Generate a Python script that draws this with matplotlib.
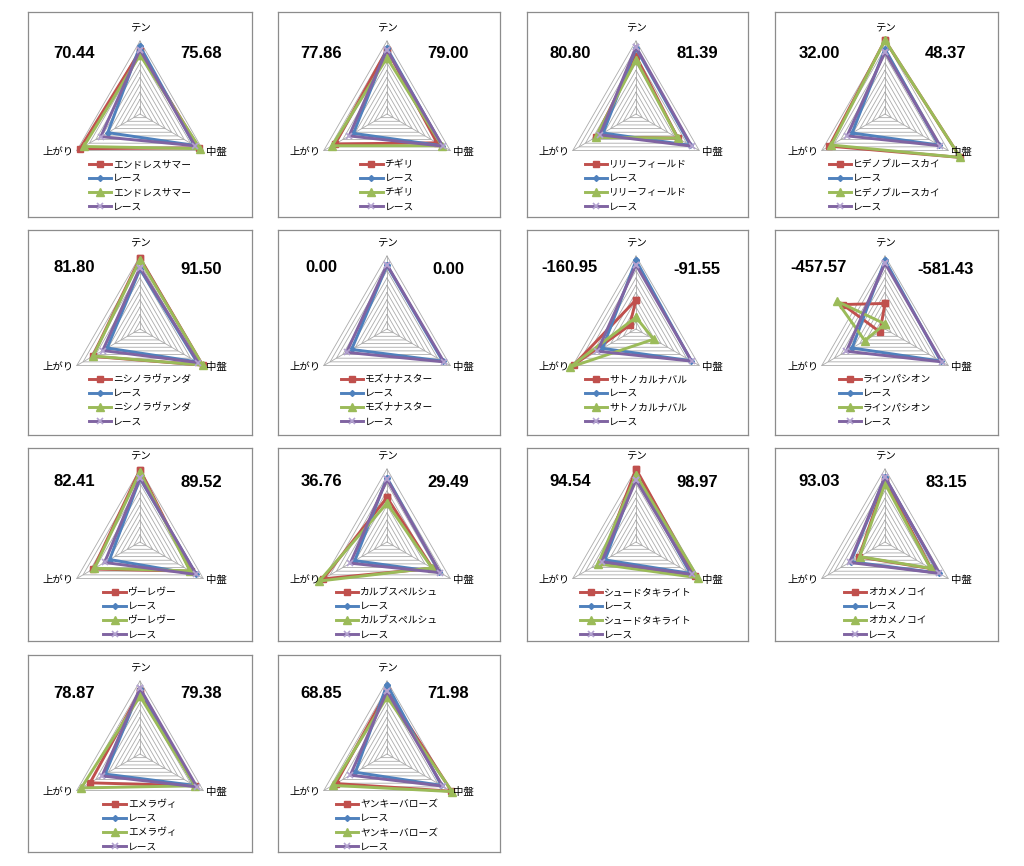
import numpy as np
import matplotlib.pyplot as plt

plt.rcParams['font.family'] = ['Noto Sans CJK JP', 'DejaVu Sans']

axis_labels = ['テン', '中盤', '上がり']
horse_names = ['エンドレスサマー', 'チギリ', 'リリーフィールド', 'ヒデノブルースカイ',
               'ニシノラヴァンダ', 'モズナナスター', 'サトノカルナバル', 'ラインパシオン',
               'ヴーレヴー', 'カルブスペルシュ', 'シュードタキライト', 'オカメノコイ',
               'エメラヴィ', 'ヤンキーバローズ']
left_scores = [70.44, 77.86, 80.80, 32.00, 81.80, 0.00, -160.95, -457.57,
               82.41, 36.76, 94.54, 93.03, 78.87, 68.85]
right_scores = [75.68, 79.00, 81.39, 48.37, 91.50, 0.00, -91.55, -581.43,
                89.52, 29.49, 98.97, 83.15, 79.38, 71.98]

nan = np.nan
# [テン, 中盤, 上がり] per chart
horse_a = [[86, 93, 95], [88, 79, 82], [79, 66, 63], [101, 119, 88],
           [97, 99, 75], [nan, nan, nan], [40, -10, 98], [35, -67, 8],
           [99, 80, 74], [61, 72, 101], [100, 94, 56], [85, 73, 41],
           [86, 87, 79], [86, 102, 81]]
race_a = [[93, 86, 51], [90, 87, 53], [90, 86, 52], [89, 85, 52],
          [82, 90, 52], [87, 88, 56], [94, 87, 53], [94, 88, 52],
          [87, 89, 48], [88, 83, 51], [90, 86, 49], [89, 85, 54],
          [89, 86, 55], [95, 86, 50]]
horse_b = [[81, 95, 89], [77, 87, 87], [74, 66, 64], [101, 119, 85],
           [95, 99, 74], [nan, nan, nan], [16, 28, 105], [7, -76, 32],
           [96, 79, 72], [53, 71, 107], [92, 98, 60], [80, 72, 40],
           [79, 87, 93], [78, 103, 86]]
race_b = [[88, 87, 62], [88, 88, 60], [92, 88, 57], [85, 87, 60],
          [84, 92, 59], [88, 90, 64], [88, 88, 61], [90, 90, 61],
          [88, 89, 56], [86, 84, 58], [85, 89, 54], [89, 86, 56],
          [90, 90, 60], [86, 88, 58]]

# panel layout in pixels
col_left = [28, 278, 527, 775]
col_width = [224, 222, 221, 223]
col_cx = [112, 109, 109, 110]
row_top = [12, 230, 448, 655]
row_height = [205, 205, 193, 197]
row_cy = [102, 99, 94, 99]
R = 73.0
W, H = 1024, 866

styles = [dict(color='#C0504D', marker='s', ms=4.5),
          dict(color='#4F81BD', marker='D', ms=3),
          dict(color='#9BBB59', marker='^', ms=5.5),
          dict(color='#8064A2', marker='x', ms=5, mec='#B3A2D0', mew=1.2)]

theta = np.deg2rad([0, 120, 240])


def to_xy(vals):
    r = np.append(vals, vals[0]) / 100.0
    t = np.append(theta, theta[0])
    return r * np.sin(t), r * np.cos(t)


fig = plt.figure(figsize=(W / 100, H / 100), dpi=100)

for i, name in enumerate(horse_names):
    row, col = i // 4, i % 4
    x0, w, cx = col_left[col], col_width[col], col_cx[col]
    y0, h, cy = row_top[row], row_height[row], row_cy[row]
    ax = fig.add_axes([x0 / W, 1 - (y0 + h) / H, w / W, h / H])
    ax.set_xlim(-cx / R, (w - cx) / R)
    ax.set_ylim(-(h - cy) / R, cy / R)
    ax.set_xticks([])
    ax.set_yticks([])
    for s in ax.spines.values():
        s.set_color('#8C8C8C')
        s.set_linewidth(0.9)

    # grid triangles and spokes
    for lev in range(10, 101, 10):
        gx, gy = to_xy([lev, lev, lev])
        ax.plot(gx, gy, color='#ABABAB', lw=0.6, zorder=1)
    for t in theta:
        ax.plot([0, np.sin(t)], [0, np.cos(t)], color='#ABABAB', lw=0.6, zorder=1)

    series = [horse_a[i], race_a[i], horse_b[i], race_b[i]]
    labels = [name, 'レース', name, 'レース']
    for vals, lab, st in zip(series, labels, styles):
        sx, sy = to_xy(vals)
        ax.plot(sx, sy, lw=2.1, label=lab, zorder=3, **st)

    ax.text(0, 1 + 13 / R, axis_labels[0], ha='center', va='center', fontsize=7.5)
    ax.text(66 / R, -38 / R, axis_labels[1], ha='left', va='center', fontsize=7.5)
    ax.text(-66 / R, -38 / R, axis_labels[2], ha='right', va='center', fontsize=7.5)

    ax.text(-66 / R, 61 / R, f'{left_scores[i]:.2f}', ha='center', va='center',
            fontsize=12, fontweight='bold', family='Liberation Sans')
    ax.text(61 / R, 60 / R, f'{right_scores[i]:.2f}', ha='center', va='center',
            fontsize=12, fontweight='bold', family='Liberation Sans')

    ax.legend(loc='upper center', bbox_to_anchor=(0, -45 / R), bbox_transform=ax.transData,
              frameon=False, fontsize=7, handlelength=2.3, labelspacing=0.42,
              borderpad=0, borderaxespad=0, handletextpad=0.2)

fig.savefig('out.png', dpi=100)
